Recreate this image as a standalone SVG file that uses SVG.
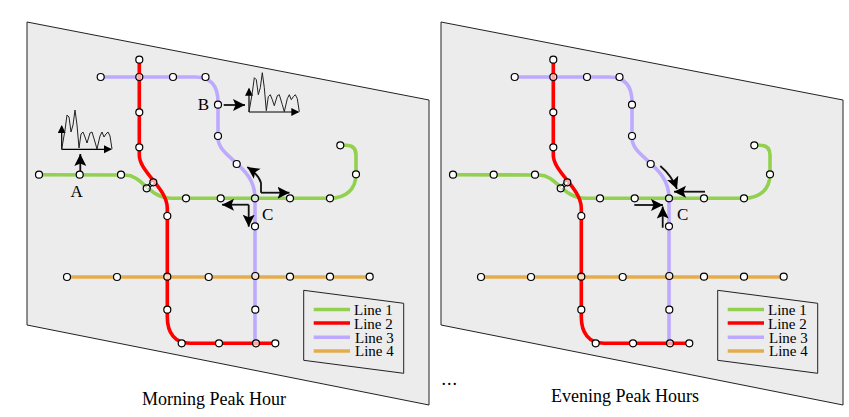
<svg xmlns="http://www.w3.org/2000/svg" width="849" height="417" viewBox="0 0 849 417">
<style>
.bg{fill:#ececec;stroke:#222;stroke-width:1}
.ln{fill:none;stroke-width:3.6}
.l1{stroke:#92d050}.l2{stroke:#ff0000}.l3{stroke:#bdaaff}.l4{stroke:#e6ac4c}
.n{fill:#fff;stroke:#000;stroke-width:1.2}
.x{fill:#fff;fill-opacity:.65;stroke:#000;stroke-width:1.2}
circle{r:3.5px}
.a{fill:none;stroke:#111;stroke-width:1.8}
.ax{fill:none;stroke:#000;stroke-width:1.2}
.c{fill:none;stroke:#222;stroke-width:1}
text{font-family:"Liberation Serif","Times New Roman",serif;fill:#000}
.lb{font-size:17px}.lg{font-size:15px}.t{font-size:18px}
</style>
<defs>
<marker id="ah" markerUnits="userSpaceOnUse" markerWidth="15" markerHeight="14" refX="12" refY="6" orient="auto"><path d="M0 0L12 6L0 12L2.5 6Z" fill="#000"/></marker>
<marker id="sh" markerUnits="userSpaceOnUse" markerWidth="10" markerHeight="10" refX="7" refY="4" orient="auto"><path d="M0 0L8 4L0 8Z" fill="#000"/></marker>
<g id="chart">
<path class="ax" d="M61.7 149.3V126" marker-end="url(#sh)"/>
<path class="ax" d="M61.7 149.3H111" marker-end="url(#sh)"/>
<path fill="none" stroke="#222" stroke-width="1" d="M61.7 149.3L65 130L67 115L69 117L71 132L73 125L75 110L77 125L79 148L81 134L83 132L85 137L87 143L90 133L92 132L95 142L97 149L100 136L102 132L104 137L106 134L108 132L110 136L112 149"/>
</g>
</defs>

<g id="panel-morning">
<path id="plane-morning" class="bg" d="M27 22L429 100V405L27 325Z"/>
<g id="connectors-morning">
<path class="ln l3" d="M100.7 77H195C210 77 218 85 218 102V138C218 158 255 165 255 198V343.3"/>
<path class="ln l1" d="M39 174.7L125 175C143 175 148 198.3 172 198.3H330C345 198.3 356 190 356 174V155Q356 145.3 346 145.3H340.3"/>
<path class="ln l2" d="M139.3 59.7V155C139.3 172 167 188 167.3 208V317C167.3 333 175 343.3 190 343.3H275.3"/>
<path class="ln l4" d="M67 277H369.7"/>
<path d="M146.7 188.3L153.3 182.3" stroke="#000" stroke-width="4" fill="none"/>
<path d="M146.7 188.3L153.3 182.3" stroke="#fff" stroke-width="2" fill="none"/>
<path class="a" d="M80.3 171V154" marker-end="url(#ah)"/>
<path class="a" d="M223.7 105H245" marker-end="url(#ah)"/>
<path class="a" d="M261 192.7V183Q259 175 247.3 167" marker-end="url(#ah)"/>
<path class="a" d="M261 192.7H289.5" marker-end="url(#ah)"/>
<path class="a" d="M248.7 204.7V226.7" marker-end="url(#ah)"/>
<path class="a" d="M248.7 204.7H222" marker-end="url(#ah)"/>
</g>
<use href="#chart"/>
<use href="#chart" transform="translate(187.3,-37.3)"/>
<g id="m-s1"><circle class="n" cx="39" cy="174.7"/></g>
<g id="m-s2"><circle class="n" cx="79.7" cy="174.7"/></g>
<g id="m-s3"><circle class="n" cx="121" cy="174.7"/></g>
<g id="m-s4"><circle class="x" cx="146.7" cy="188.3"/></g>
<g id="m-s5"><circle class="x" cx="153.3" cy="182.3"/></g>
<g id="m-s6"><circle class="n" cx="186" cy="198.3"/></g>
<g id="m-s7"><circle class="n" cx="220.7" cy="198.3"/></g>
<g id="m-s8"><circle class="x" cx="255" cy="198.3"/></g>
<g id="m-s9"><circle class="n" cx="290" cy="198.3"/></g>
<g id="m-s10"><circle class="n" cx="330" cy="198.3"/></g>
<g id="m-s11"><circle class="n" cx="356" cy="174.3"/></g>
<g id="m-s12"><circle class="n" cx="340.3" cy="145.3"/></g>
<g id="m-s13"><circle class="n" cx="139.3" cy="59.7"/></g>
<g id="m-s14"><circle class="x" cx="139.3" cy="77"/></g>
<g id="m-s15"><circle class="n" cx="139.3" cy="112.3"/></g>
<g id="m-s16"><circle class="n" cx="139.3" cy="147.3"/></g>
<g id="m-s17"><circle class="n" cx="167.3" cy="216"/></g>
<g id="m-s18"><circle class="x" cx="167.3" cy="276.7"/></g>
<g id="m-s19"><circle class="n" cx="167.3" cy="309.7"/></g>
<g id="m-s20"><circle class="n" cx="181.7" cy="343.3"/></g>
<g id="m-s21"><circle class="n" cx="219" cy="343.3"/></g>
<g id="m-s22"><circle class="x" cx="256" cy="343.3"/></g>
<g id="m-s23"><circle class="n" cx="275.3" cy="343.3"/></g>
<g id="m-s24"><circle class="n" cx="100.7" cy="77"/></g>
<g id="m-s25"><circle class="n" cx="173" cy="77"/></g>
<g id="m-s26"><circle class="n" cx="205.5" cy="77"/></g>
<g id="m-s27"><circle class="n" cx="218" cy="104.7"/></g>
<g id="m-s28"><circle class="n" cx="218" cy="136"/></g>
<g id="m-s29"><circle class="n" cx="236.7" cy="164"/></g>
<g id="m-s30"><circle class="n" cx="255" cy="226.3"/></g>
<g id="m-s31"><circle class="x" cx="255.3" cy="276"/></g>
<g id="m-s32"><circle class="n" cx="255.3" cy="309.7"/></g>
<g id="m-s33"><circle class="n" cx="67" cy="277"/></g>
<g id="m-s34"><circle class="n" cx="117" cy="277"/></g>
<g id="m-s35"><circle class="n" cx="208.7" cy="277"/></g>
<g id="m-s36"><circle class="n" cx="290" cy="276.7"/></g>
<g id="m-s37"><circle class="n" cx="330" cy="276.7"/></g>
<g id="m-s38"><circle class="n" cx="369.7" cy="276.7"/></g>
<text class="lb" x="76.7" y="197" text-anchor="middle">A</text>
<text class="lb" x="203.5" y="110" text-anchor="middle">B</text>
<text class="lb" x="267.7" y="220" text-anchor="middle">C</text>
<g id="m-legend">
<path class="c" d="M303.7 290.3L403.7 303.3V373.3L303.7 360.3Z"/>
<path class="ln l1" d="M313.7 309.5H350"/>
<path class="ln l2" d="M313.7 323H350"/>
<path class="ln l3" d="M313.7 337.3H350"/>
<path class="ln l4" d="M313.7 351H350"/>
<text class="lg" x="354" y="315">Line 1</text>
<text class="lg" x="354" y="329">Line 2</text>
<text class="lg" x="355" y="343">Line 3</text>
<text class="lg" x="355" y="356">Line 4</text>
</g>
</g>

<g id="panel-evening" transform="translate(414,0)">
<path id="plane-evening" class="bg" d="M27 22L429 100V405L27 325Z"/>
<g id="connectors-evening">
<path class="ln l3" d="M100.7 77H195C210 77 218 85 218 102V138C218 158 255 165 255 198V343.3"/>
<path class="ln l1" d="M39 174.7L125 175C143 175 148 198.3 172 198.3H330C345 198.3 356 190 356 174V155Q356 145.3 346 145.3H340.3"/>
<path class="ln l2" d="M139.3 59.7V155C139.3 172 167 188 167.3 208V317C167.3 333 175 343.3 190 343.3H275.3"/>
<path class="ln l4" d="M67 277H369.7"/>
<path d="M146.7 188.3L153.3 182.3" stroke="#000" stroke-width="4" fill="none"/>
<path d="M146.7 188.3L153.3 182.3" stroke="#fff" stroke-width="2" fill="none"/>
<path class="a" d="M246.3 166Q258 176 263 189" marker-end="url(#ah)"/>
<path class="a" d="M291 191.7H260" marker-end="url(#ah)"/>
<path class="a" d="M220.3 205H249" marker-end="url(#ah)"/>
<path class="a" d="M248.7 227.7V206.5" marker-end="url(#ah)"/>
</g>
<g id="e-s1"><circle class="n" cx="39" cy="174.7"/></g>
<g id="e-s2"><circle class="n" cx="79.7" cy="174.7"/></g>
<g id="e-s3"><circle class="n" cx="121" cy="174.7"/></g>
<g id="e-s4"><circle class="x" cx="146.7" cy="188.3"/></g>
<g id="e-s5"><circle class="x" cx="153.3" cy="182.3"/></g>
<g id="e-s6"><circle class="n" cx="186" cy="198.3"/></g>
<g id="e-s7"><circle class="n" cx="220.7" cy="198.3"/></g>
<g id="e-s8"><circle class="x" cx="255" cy="198.3"/></g>
<g id="e-s9"><circle class="n" cx="290" cy="198.3"/></g>
<g id="e-s10"><circle class="n" cx="330" cy="198.3"/></g>
<g id="e-s11"><circle class="n" cx="356" cy="174.3"/></g>
<g id="e-s12"><circle class="n" cx="340.3" cy="145.3"/></g>
<g id="e-s13"><circle class="n" cx="139.3" cy="59.7"/></g>
<g id="e-s14"><circle class="x" cx="139.3" cy="77"/></g>
<g id="e-s15"><circle class="n" cx="139.3" cy="112.3"/></g>
<g id="e-s16"><circle class="n" cx="139.3" cy="147.3"/></g>
<g id="e-s17"><circle class="n" cx="167.3" cy="216"/></g>
<g id="e-s18"><circle class="x" cx="167.3" cy="276.7"/></g>
<g id="e-s19"><circle class="n" cx="167.3" cy="309.7"/></g>
<g id="e-s20"><circle class="n" cx="181.7" cy="343.3"/></g>
<g id="e-s21"><circle class="n" cx="219" cy="343.3"/></g>
<g id="e-s22"><circle class="x" cx="256" cy="343.3"/></g>
<g id="e-s23"><circle class="n" cx="275.3" cy="343.3"/></g>
<g id="e-s24"><circle class="n" cx="100.7" cy="77"/></g>
<g id="e-s25"><circle class="n" cx="173" cy="77"/></g>
<g id="e-s26"><circle class="n" cx="205.5" cy="77"/></g>
<g id="e-s27"><circle class="n" cx="218" cy="104.7"/></g>
<g id="e-s28"><circle class="n" cx="218" cy="136"/></g>
<g id="e-s29"><circle class="n" cx="236.7" cy="164"/></g>
<g id="e-s30"><circle class="n" cx="255" cy="226.3"/></g>
<g id="e-s31"><circle class="x" cx="255.3" cy="276"/></g>
<g id="e-s32"><circle class="n" cx="255.3" cy="309.7"/></g>
<g id="e-s33"><circle class="n" cx="67" cy="277"/></g>
<g id="e-s34"><circle class="n" cx="117" cy="277"/></g>
<g id="e-s35"><circle class="n" cx="208.7" cy="277"/></g>
<g id="e-s36"><circle class="n" cx="290" cy="276.7"/></g>
<g id="e-s37"><circle class="n" cx="330" cy="276.7"/></g>
<g id="e-s38"><circle class="n" cx="369.7" cy="276.7"/></g>
<text class="lb" x="268.7" y="220" text-anchor="middle">C</text>
<g id="e-legend">
<path class="c" d="M303.7 290.3L403.7 303.3V373.3L303.7 360.3Z"/>
<path class="ln l1" d="M313.7 309.5H350"/>
<path class="ln l2" d="M313.7 323H350"/>
<path class="ln l3" d="M313.7 337.3H350"/>
<path class="ln l4" d="M313.7 351H350"/>
<text class="lg" x="354" y="315">Line 1</text>
<text class="lg" x="354" y="329">Line 2</text>
<text class="lg" x="355" y="343">Line 3</text>
<text class="lg" x="355" y="356">Line 4</text>
</g>
</g>

<text class="t" x="142" y="405">Morning Peak Hour</text>
<text class="t" x="551" y="402">Evening Peak Hours</text>
<text class="t" x="441.5" y="385" letter-spacing="1">...</text>
</svg>
